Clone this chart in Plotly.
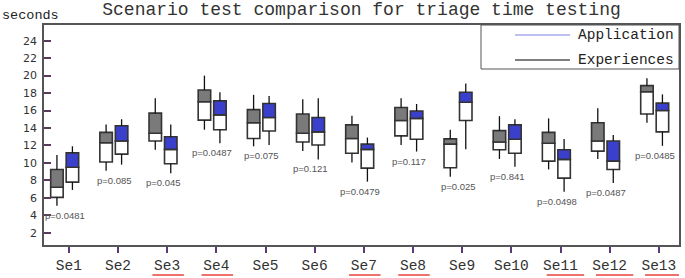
import plotly.graph_objects as go

categories = ["Se1", "Se2", "Se3", "Se4", "Se5", "Se6", "Se7", "Se8", "Se9", "Se10", "Se11", "Se12", "Se13"]

# Experiences (gray boxes)
exp_min = [5.1, 9.1, 11.5, 13.8, 11.9, 11.35, 10.05, 12.05, 8.4, 10.45, 9.25, 10.45, 14.6]
exp_q1 = [6.05, 10.1, 12.5, 14.9, 12.8, 12.4, 11.1, 13.1, 9.45, 11.5, 10.2, 11.35, 15.6]
exp_med = [7.2, 12.3, 13.4, 17.0, 14.6, 13.4, 12.8, 14.85, 12.15, 12.4, 12.25, 12.5, 18.15]
exp_q3 = [9.25, 13.5, 15.7, 18.35, 16.1, 15.6, 14.35, 16.35, 12.75, 13.7, 13.5, 14.6, 18.85]
exp_max = [10.9, 14.4, 17.4, 20.0, 17.8, 17.3, 15.4, 17.4, 13.8, 15.35, 15.1, 16.25, 19.7]

# Application (blue boxes)
app_min = [6.9, 9.8, 8.8, 12.25, 12.05, 10.4, 7.85, 11.3, 11.55, 9.55, 6.7, 7.7, 11.95]
app_q1 = [7.8, 11.0, 9.9, 13.8, 13.65, 12.05, 9.4, 12.7, 14.85, 11.1, 8.25, 9.25, 13.55]
app_med = [9.5, 12.5, 11.55, 15.5, 15.2, 13.55, 11.55, 15.1, 16.95, 12.7, 10.4, 10.2, 16.0]
app_q3 = [11.15, 14.25, 13.0, 17.1, 16.8, 15.2, 12.15, 15.95, 18.1, 14.35, 11.5, 12.5, 16.85]
app_max = [11.9, 15.0, 14.4, 18.1, 17.65, 17.4, 12.9, 16.75, 19.1, 15.0, 12.75, 13.2, 17.85]

p_labels = ["p=0.0481", "p=0.085", "p=0.045", "p=0.0487", "p=0.075", "p=0.121", "p=0.0479",
            "p=0.117", "p=0.025", "p=0.841", "p=0.0498", "p=0.0487", "p=0.0485"]

underlined = ["Se3", "Se4", "Se7", "Se8", "Se11", "Se12", "Se13"]

y_ticks = [2, 4, 6, 8, 10, 12, 14, 16, 18, 20, 22, 24]

# ---- layout constants (pixels) ----
W, H = 685, 278
L, R, T, B = 44, 6, 25, 33
pw, ph = W - L - R, H - T - B


def px_x(px):
    return (px - L) / pw


def px_y(py):
    return (H - B - py) / ph


xpos = list(range(1, len(categories) + 1))
box_w = 0.254
mono = "Liberation Mono, Courier New, monospace"
outline = "#333333"

fig = go.Figure()


def add_series(name, mins, q1, med, q3, maxs, color, center_off):
    off = center_off - box_w / 2
    fig.add_trace(go.Bar(
        name=name, x=xpos, y=[m - a for m, a in zip(med, q1)], base=q1,
        offset=off, width=box_w,
        marker=dict(color="white", line=dict(color=outline, width=1.6)),
        hoverinfo="skip"))
    fig.add_trace(go.Bar(
        name=name, x=xpos, y=[b - m for b, m in zip(q3, med)], base=med,
        offset=off, width=box_w,
        marker=dict(color=color, line=dict(color=outline, width=1.6)),
        hoverinfo="skip"))
    wx, wy = [], []
    for i, x in enumerate(xpos):
        cx = x + center_off
        wx += [cx, cx, None, cx, cx, None]
        wy += [q3[i], maxs[i], None, q1[i], mins[i], None]
    fig.add_trace(go.Scatter(x=wx, y=wy, mode="lines",
                             line=dict(color="#111111", width=1.3),
                             hoverinfo="skip", connectgaps=False))


add_series("Experiences", exp_min, exp_q1, exp_med, exp_q3, exp_max, "#7a7a7a", -0.242)
add_series("Application", app_min, app_q1, app_med, app_q3, app_max, "#3b40cc", 0.073)

annotations = []
for i, x in enumerate(xpos):
    annotations.append(dict(
        x=x - 0.08, y=min(exp_min[i], app_min[i]), xref="x", yref="y",
        text=p_labels[i], showarrow=False, yanchor="top", yshift=-2,
        font=dict(family="Liberation Sans, Arial, sans-serif", size=9.5, color="#555555")))

annotations.append(dict(x=px_x(0), y=px_y(16), xref="paper", yref="paper", text="seconds",
                        showarrow=False, xanchor="left", yanchor="middle",
                        font=dict(family=mono, size=13.5, color="#222222")))

# legend (drawn)
legend_items = [("Application", "#7b80e0", 35), ("Experiences", "#000000", 60)]
shapes = [dict(type="rect", xref="paper", yref="paper", x0=px_x(481), x1=px_x(679),
               y0=px_y(69), y1=px_y(25), line=dict(color="#555555", width=1),
               fillcolor="white", layer="below")]
for label, col, py in legend_items:
    shapes.append(dict(type="line", xref="paper", yref="paper", x0=px_x(515), x1=px_x(570),
                       y0=px_y(py), y1=px_y(py), line=dict(color=col, width=1.2)))
    annotations.append(dict(x=px_x(576), y=px_y(py), xref="paper", yref="paper", text=label,
                            showarrow=False, xanchor="left", yanchor="middle",
                            font=dict(family=mono, size=14.5, color="#222222")))

for cat in underlined:
    i = categories.index(cat)
    half = 0.32 if len(cat) == 3 else 0.38
    xc = xpos[i] + (0.02 if len(cat) == 3 else 0.1)
    shapes.append(dict(type="line", xref="x", yref="paper", x0=xc - half, x1=xc + half,
                       y0=px_y(275), y1=px_y(275), line=dict(color="#e8403a", width=1.5)))

fig.update_layout(
    width=W, height=H,
    margin=dict(l=L, r=R, t=T, b=B, autoexpand=False),
    plot_bgcolor="white", paper_bgcolor="white",
    barmode="overlay", showlegend=False,
    title=dict(text="Scenario test comparison for triage time testing",
               x=0.5, xref="paper", xanchor="center",
               y=1 - 9 / H, yref="container", yanchor="middle",
               font=dict(family=mono, size=18, color="#333333")),
    annotations=annotations, shapes=shapes,
)

fig.update_xaxes(range=[0.495, 13.41], tickmode="array", tickvals=xpos, ticktext=categories,
                 showline=True, linecolor="#555555", linewidth=1.5, mirror=True,
                 ticks="outside", ticklen=6, tickwidth=1.5, tickcolor="#5a3a7a",
                 showgrid=False, zeroline=False, automargin=False,
                 tickfont=dict(family=mono, size=14.5, color="#333333"))
fig.update_yaxes(range=[0.59, 25.8], tickmode="array", tickvals=y_ticks,
                 showline=True, linecolor="#555555", linewidth=1.5, mirror=True,
                 ticks="inside", ticklen=7, tickwidth=1.5, tickcolor="#5a3a5a",
                 showgrid=False, zeroline=False, ticklabelstandoff=3, automargin=False,
                 tickfont=dict(family="DejaVu Sans, sans-serif", size=11, color="#333333"))

fig.write_html("out.html", config={"displayModeBar": False},
               post_script="document.body.style.margin='0';document.body.style.padding='0';")
